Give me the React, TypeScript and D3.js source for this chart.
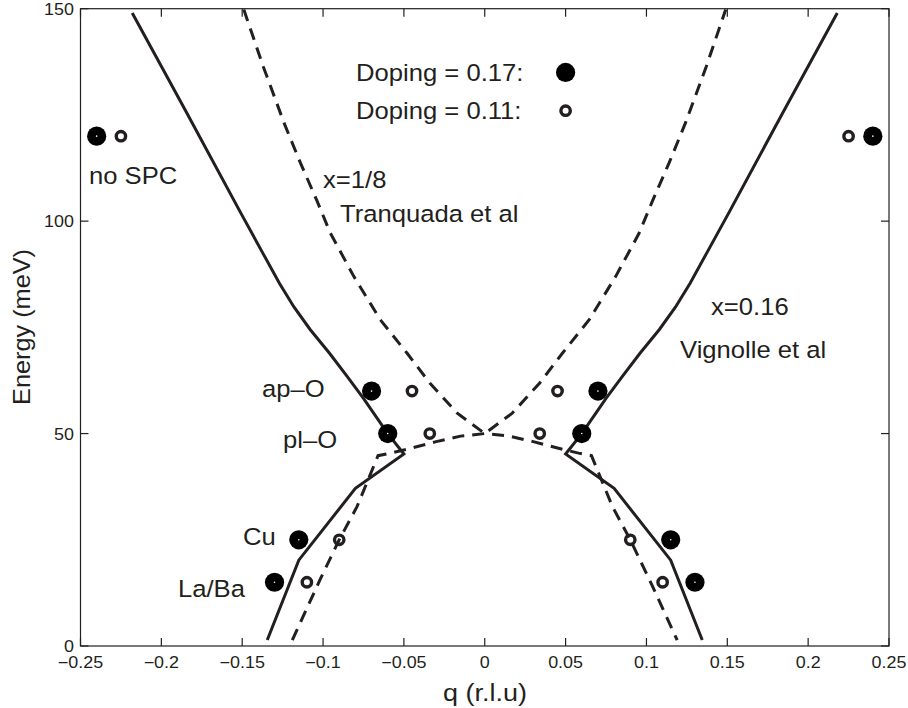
import React from "react";
import * as d3 from "d3";

// axis ticks
const qTicks = [-0.25, -0.2, -0.15, -0.1, -0.05, 0, 0.05, 0.1, 0.15, 0.2, 0.25];
const eTicks = [0, 50, 100, 150];

// x=0.16, Vignolle et al (solid)
const vignolleLeft: [number, number][] = [
  [-0.218, 149], [-0.185, 126], [-0.151, 102], [-0.137, 92.3], [-0.127, 85.4],
  [-0.118, 79.8], [-0.108, 74.5], [-0.096, 68.9], [-0.085, 63.4], [-0.075, 58.3],
  [-0.06, 50], [-0.05, 45.2], [-0.08, 37.1], [-0.115, 20.2], [-0.1345, 1.4],
];
const vignolleRight: [number, number][] = [
  [0.218, 149], [0.185, 126], [0.151, 102], [0.137, 92.3], [0.127, 85.4],
  [0.118, 79.8], [0.108, 74.5], [0.096, 68.9], [0.085, 63.4], [0.075, 58.3],
  [0.06, 50], [0.05, 45.2], [0.08, 37.1], [0.115, 20.2], [0.1345, 1.4],
];

// x=1/8, Tranquada et al (dashed)
const tranquadaUpper: [number, number][] = [
  [-0.149, 149.8], [-0.137, 136.4], [-0.124, 123], [-0.114, 113.7], [-0.104, 105],
  [-0.0955, 97.2], [-0.081, 87], [-0.0646, 76.8], [-0.048, 68.9], [-0.034, 61.9],
  [-0.017, 54.8], [0, 50], [0.017, 54.8], [0.034, 61.9], [0.048, 68.9],
  [0.0646, 76.8], [0.081, 87], [0.0955, 97.2], [0.104, 105], [0.114, 113.7],
  [0.124, 123], [0.137, 136.4], [0.149, 149.8],
];
const tranquadaLower: [number, number][] = [
  [-0.119, 1.4], [-0.102, 15.5], [-0.09, 25], [-0.079, 32.8], [-0.066, 44.8],
  [-0.058, 45.4], [-0.045, 46.6], [-0.03, 48.1], [-0.015, 49.4], [0, 50],
  [0.015, 49.4], [0.03, 48.1], [0.045, 46.6], [0.058, 45.4], [0.066, 44.8],
  [0.079, 32.8], [0.09, 25], [0.102, 15.5], [0.119, 1.4],
];

// measured modes
const doping017: [number, number][] = [
  [-0.24, 120], [0.24, 120], [-0.07, 60], [0.07, 60], [-0.06, 50], [0.06, 50],
  [-0.115, 25], [0.115, 25], [-0.13, 15], [0.13, 15],
];
const doping011: [number, number][] = [
  [-0.225, 120], [0.225, 120], [-0.045, 60], [0.045, 60], [-0.034, 50], [0.034, 50],
  [-0.09, 25], [0.09, 25], [-0.11, 15], [0.11, 15],
];
const legendKeys = [
  { label: "Doping = 0.17:", q: 0.05, e: 135, filled: true },
  { label: "Doping = 0.11:", q: 0.05, e: 126, filled: false },
];

const W = 908;
const H = 708;
const INK = "#231f20";
const FONT = "'Liberation Sans', Arial, Helvetica, sans-serif";
const SX = 1.1; // the original glyphs are a bit wider than Arial

const Txt = ({ x, y, size, anchor = "start", rotate = 0, children }: any) => (
  <text
    transform={`translate(${x},${y}) rotate(${rotate}) scale(${SX},1)`}
    fontSize={size}
    fontFamily={FONT}
    textAnchor={anchor}
    fill={INK}
  >
    {children}
  </text>
);

const fmt = (v: number) => (v < 0 ? "\u2212" + String(-v) : String(v));

export default function App() {
  const x = d3.scaleLinear().domain([-0.25, 0.25]).range([80.5, 889]);
  const y = d3.scaleLinear().domain([0, 150]).range([646, 8.7]);
  const line = d3
    .line<[number, number]>()
    .x((d) => x(d[0]))
    .y((d) => y(d[1]));

  const [x0, x1] = x.range();
  const [y0, y1] = y.range();
  const tick = 8;

  return (
    <svg
      width={W}
      height={H}
      style={{ position: "absolute", left: 0, top: 0, background: "#fff" }}
    >
      <rect width={W} height={H} fill="#fff" />

      {/* box + inward ticks */}
      <g stroke={INK} strokeWidth={1.2} fill="none">
        <rect x={x0} y={y1} width={x1 - x0} height={y0 - y1} />
        {qTicks.map((t) => (
          <g key={"q" + t}>
            <line x1={x(t)} x2={x(t)} y1={y0} y2={y0 - tick} />
            <line x1={x(t)} x2={x(t)} y1={y1} y2={y1 + tick} />
          </g>
        ))}
        {eTicks.map((t) => (
          <g key={"e" + t}>
            <line x1={x0} x2={x0 + tick} y1={y(t)} y2={y(t)} />
            <line x1={x1} x2={x1 - tick} y1={y(t)} y2={y(t)} />
          </g>
        ))}
      </g>

      {qTicks.map((t) => (
        <Txt key={"ql" + t} x={x(t)} y={668} size={16.3} anchor="middle">
          {fmt(t)}
        </Txt>
      ))}
      {eTicks.map((t) => (
        <Txt key={"el" + t} x={74} y={y(t) + 6} size={16.3} anchor="end">
          {fmt(t)}
        </Txt>
      ))}

      <Txt x={485} y={701} size={24.5} anchor="middle">q (r.l.u)</Txt>
      <Txt x={30} y={327} size={23} anchor="middle" rotate={-90}>Energy (meV)</Txt>

      {/* dispersions */}
      <g fill="none" stroke={INK} strokeWidth={3} strokeLinejoin="miter">
        <path d={line(vignolleLeft) || ""} />
        <path d={line(vignolleRight) || ""} />
      </g>
      <g fill="none" stroke={INK} strokeWidth={3} strokeDasharray="12,8">
        <path d={line(tranquadaUpper) || ""} />
        <path d={line(tranquadaLower) || ""} />
      </g>

      {/* markers */}
      {doping017.map((d, i) => (
        <g key={"f" + i}>
          <circle cx={x(d[0])} cy={y(d[1])} r={9.6} fill={"#000"} />
          <circle cx={x(d[0])} cy={y(d[1])} r={0.8} fill="#fff" />
        </g>
      ))}
      {doping011.map((d, i) => (
        <circle key={"o" + i} cx={x(d[0])} cy={y(d[1])} r={4.7} fill="none" stroke={INK} strokeWidth={3.4} />
      ))}

      {/* legend */}
      {legendKeys.map((k, i) => (
        <g key={"lg" + i}>
          <Txt x={356} y={y(k.e) + 8.5} size={23.3}>{k.label}</Txt>
          {k.filled ? (
            <circle cx={x(k.q)} cy={y(k.e)} r={9.6} fill="#000" />
          ) : (
            <circle cx={x(k.q)} cy={y(k.e)} r={4.7} fill="none" stroke={INK} strokeWidth={3.4} />
          )}
        </g>
      ))}

      {/* annotations */}
      <Txt x={89} y={184} size={23.3}>no SPC</Txt>
      <Txt x={323} y={188} size={23.3}>x=1/8</Txt>
      <Txt x={340} y={222} size={23.3}>Tranquada et al</Txt>
      <Txt x={711} y={315} size={23.3}>x=0.16</Txt>
      <Txt x={680} y={358} size={23.3}>Vignolle et al</Txt>
      <Txt x={262} y={397} size={23.3}>ap–O</Txt>
      <Txt x={283} y={448} size={23.3}>pl–O</Txt>
      <Txt x={243} y={545} size={23.3}>Cu</Txt>
      <Txt x={178} y={597} size={23.3}>La/Ba</Txt>
    </svg>
  );
}
